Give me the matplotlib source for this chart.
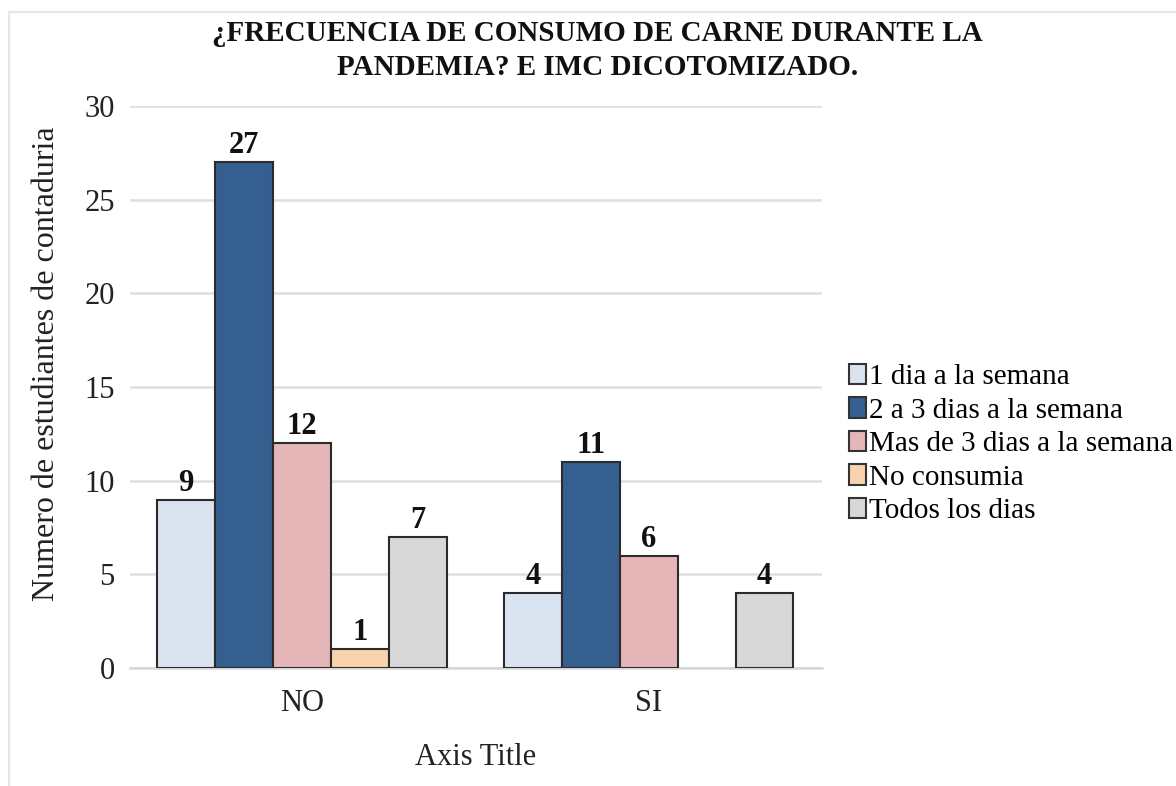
import matplotlib
matplotlib.use("Agg")
import matplotlib.pyplot as plt
from matplotlib.lines import Line2D
import numpy as np

plt.rcParams['font.family'] = ['Liberation Serif', 'DejaVu Serif']

categories = ["NO", "SI"]
series_names = ["1 dia a la semana", "2 a 3 dias a la semana",
                "Mas de 3 dias a la semana", "No consumia", "Todos los dias"]
series_values = [
    [9, 4],
    [27, 11],
    [12, 6],
    [1, 0],
    [7, 4],
]
series_colors = ["#dae3f0", "#355f8f", "#e5b6b7", "#f9d2ae", "#d8d8d8"]
y_ticks = [0, 5, 10, 15, 20, 25, 30]

fig = plt.figure(figsize=(11.76, 7.86), dpi=100)
ax = fig.add_axes([0.1105, 0.150, 0.5885, 0.715])

x = np.arange(len(categories))
n = len(series_names)
width = 0.167
for i, (name, vals, col) in enumerate(zip(series_names, series_values, series_colors)):
    offs = (i - (n - 1) / 2) * width
    xs, hs = [], []
    for xi, v in zip(x, vals):
        if v > 0:
            xs.append(xi + offs)
            hs.append(v)
    bars = ax.bar(xs, hs, width=width, color=col, edgecolor="#2b2b2b",
                  linewidth=1.5, label=name, zorder=3)
    for b, v in zip(bars, hs):
        ax.text(b.get_x() + b.get_width() / 2, v + 0.1, str(v),
                ha="center", va="bottom", fontsize=22, fontweight="bold",
                color="#111111", zorder=4)

ax.set_xlim(-0.496, 1.5)
ax.set_ylim(0, 30)
ax.set_yticks(y_ticks)
ax.set_xticks(x)
ax.set_xticklabels(categories)
ax.tick_params(axis="both", length=0, labelsize=22, colors="#222222")
ax.tick_params(axis="y", pad=11)
ax.tick_params(axis="x", pad=15)
ax.grid(axis="y", color="#dedede", linewidth=1.8, zorder=0)
for s in ["top", "right", "left"]:
    ax.spines[s].set_visible(False)
ax.spines["bottom"].set_color("#d6d6d6")
ax.spines["bottom"].set_linewidth(1.8)

ax.set_ylabel("Numero de estudiantes de contaduria", fontsize=23,
              color="#222222")
ax.yaxis.set_label_coords(-0.1, 0.541)
ax.set_xlabel("Axis Title", fontsize=22, labelpad=18, color="#222222")

fig.text(0.508, 0.975, "¿FRECUENCIA DE CONSUMO DE CARNE DURANTE LA\nPANDEMIA? E IMC DICOTOMIZADO.",
         ha="center", va="top", fontsize=21, fontweight="bold",
         linespacing=1.34, color="#111111")

leg = fig.legend(loc="center left", bbox_to_anchor=(0.712, 0.435), frameon=False,
                 fontsize=21, handlelength=0.6, handleheight=0.7,
                 handletextpad=0.1, labelspacing=0.24, borderaxespad=0)
for h in leg.legend_handles:
    h.set_linewidth(1.5)
    h.set_edgecolor("#333333")

# thin frame along the left and top edges
fig.add_artist(Line2D([0.0075, 0.0075], [0, 0.985], transform=fig.transFigure,
                      color="#e6e6e6", linewidth=1.5))
fig.add_artist(Line2D([0.0075, 1.0], [0.985, 0.985], transform=fig.transFigure,
                      color="#e6e6e6", linewidth=1.5))

fig.savefig("out.png", dpi=100)
